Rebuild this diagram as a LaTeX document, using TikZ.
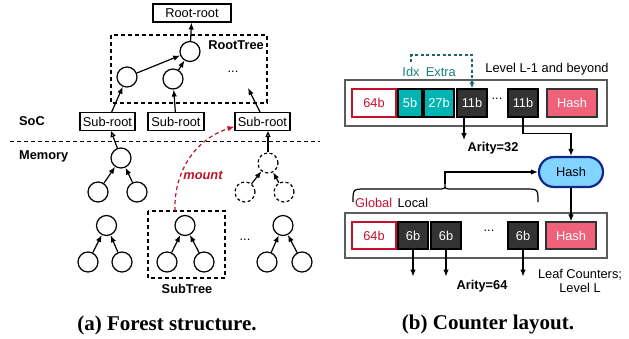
\documentclass[tikz,border=0pt]{standalone}
\usepackage{fontspec}
\setmainfont{Liberation Serif}
\setsansfont{Liberation Sans}
\usetikzlibrary{arrows.meta,positioning}
\definecolor{cntred}{RGB}{200,16,46}
\definecolor{mntred}{RGB}{190,20,40}
\definecolor{idxteal}{RGB}{0,180,180}
\definecolor{idxtext}{RGB}{30,125,125}
\definecolor{idxline}{RGB}{26,105,105}
\definecolor{ctrdark}{RGB}{51,51,51}
\definecolor{hashpink}{RGB}{240,98,122}
\definecolor{pillfill}{RGB}{128,212,255}
\definecolor{pillline}{RGB}{16,40,140}
\tikzset{
	txt/.style={font=\fontsize{12.8}{14}\selectfont\sffamily, inner sep=1pt},
	btxt/.style={font=\fontsize{12.8}{14}\selectfont\sffamily\bfseries, inner sep=1pt},
	captxt/.style={font=\fontsize{21}{23}\selectfont\bfseries},
	cir/.style={circle, draw, line width=1.2pt, minimum size=20pt, inner sep=0pt},
	dcir/.style={cir, dash pattern=on 3pt off 2.5pt},
	rbox/.style={txt, draw, line width=1.1pt, minimum height=18pt, inner sep=0pt},
	dbox/.style={line width=1.1pt, dash pattern=on 4pt off 3pt},
	arr/.style={line width=1.2pt, -{Latex[length=7pt,width=5.5pt]}},
	oarr/.style={line width=1.2pt, -{Triangle[open,length=6pt,width=5pt]}},
	cell/.style={txt, draw=black, line width=1.1pt, minimum height=28pt, inner sep=0pt, text=white},
	frame/.style={draw=ctrdark!80, line width=1.2pt}
}
\begin{document}
\begin{tikzpicture}[x=1pt,y=-1pt]
	\useasboundingbox (0,0) rectangle (629,338);
	%(a) forest
	\node (rr) at (192,13) [rbox, minimum width=78pt]{Root-root};
	\draw[dbox] (111,35) rectangle (267,103);
	\node (rtl) at (236,45) [btxt]{RootTree};
	\node (rt) at (190,51.5) [cir]{};
	\node (r1) at (127,77) [cir]{};
	\node (r2) at (173,79) [cir]{};
	\node (rdots) at (233,72) [txt]{...};
	\coordinate (rend) at (248,88);
	\draw[arr] (rt) -- (rr);
	\draw[arr] (r1) -- (rt);
	\draw[arr] (r2) -- (rt);
	
	\node (s1) at (107.5,121.5) [rbox, minimum width=55pt]{Sub-root};
	\node (s2) at (176,121.5) [rbox, minimum width=56pt]{Sub-root};
	\node (s3) at (262.5,121.5) [rbox, minimum width=55pt]{Sub-root};
	\draw[arr] (s1) -- (r1);
	\draw[arr] (s2) -- (r2);
	\draw[arr] (s3.north -| 260,0) -- (rend);
	
	\node (soc) at (18,121) [btxt, anchor=west]{SoC};
	\node (mem) at (18,156) [btxt, anchor=west]{Memory};
	\draw[dbox] (10,141.5) -- (320,141.5);
	
	%subtrees
	\foreach \n/\x/\y/\lx/\rx/\cy in {m1/121/158/98/137/192, ta/106.5/225.5/88/122/262, tb/185/225.5/167/204/262, tc/283/225.5/267/302/262}{
		\node (\n) at (\x,\y) [cir]{};
		\node (\n-l) at (\lx,\cy) [cir]{};
		\node (\n-r) at (\rx,\cy) [cir]{};
		\draw[arr] (\n-l) -- (\n);
		\draw[arr] (\n-r) -- (\n);
	}
	\node (d1) at (268,163) [dcir]{};
	\node (d1-l) at (245,192) [dcir]{};
	\node (d1-r) at (284,192) [dcir]{};
	\draw[arr] (d1-l) -- (d1);
	\draw[arr] (d1-r) -- (d1);
	\draw[oarr] (m1) -- (s1);
	\draw[oarr] (d1.north) -- (d1 |- s3.south);
	\node (bdots) at (245,240) [txt]{...};
	
	\draw[dbox] (148,211) rectangle (225,278);
	\node (stl) at (187,289) [btxt]{SubTree};
	\coordinate (mstart) at (175,211);
	\draw[mntred, line width=1.2pt, dash pattern=on 4pt off 3pt, -{Latex[length=7pt,width=5.5pt]}] (mstart) to[out=92,in=198] ([yshift=-5pt]s3.west);
	\node (mnt) at (203,175) [btxt, text=mntred, font=\fontsize{12.8}{14}\selectfont\sffamily\bfseries\itshape]{mount};
	
	\node (capa) at (167,325) [captxt]{(a) Forest structure.};
	
	%(b) counters, level L-1
	\draw[frame] (345,80) rectangle (607,126);
	\node (u64) at (374,103) [cell, minimum width=44pt, draw=cntred, fill=white, text=cntred]{64b};
	\node (u5) at (410,103) [cell, minimum width=24pt, fill=idxteal]{5b};
	\node (u27) at (439,103) [cell, minimum width=30pt, fill=idxteal]{27b};
	\node (u11a) at (472,103) [cell, minimum width=30pt, fill=ctrdark]{11b};
	\node (udots) at (497,99) [txt]{...};
	\node (u11b) at (523,103) [cell, minimum width=30pt, fill=ctrdark]{11b};
	\node (uh) at (572,103) [cell, minimum width=50pt, fill=hashpink, draw=ctrdark]{Hash};
	
	\node (idx) at (411,72) [txt, text=idxtext]{Idx};
	\node (ext) [txt, text=idxtext, right=4pt of idx]{Extra};
	\node (lvl) at (547,69) [txt]{Level L-1 and beyond};
	\coordinate (dstart) at (411,62);
	\draw[idxline, line width=1.1pt, dash pattern=on 3pt off 2.5pt, -{Latex[length=6pt,width=5pt]}] (dstart) -- (411,55) -| (u11a.north);
	
	\coordinate (a32) at (464,140);
	\draw[arr] (u11a.south -| a32) -- (a32);
	\node (ar32) at (493,148) [btxt]{Arity=32};
	
	\node (hp) at (571,172) [txt, draw=pillline, line width=2.2pt, fill=pillfill, rounded corners=15pt, minimum width=64pt, minimum height=30pt, text=black]{Hash};
	\draw[arr] (u11b.south) -- ++(0,16) -| (hp.north);
	
	%level L
	\draw[frame] (345,213) rectangle (607,258);
	\node (l64) at (374,235.5) [cell, minimum width=44pt, minimum height=27pt, draw=cntred, fill=white, text=cntred]{64b};
	\node (l6a) at (413,235.5) [cell, minimum width=30pt, minimum height=27pt, fill=ctrdark]{6b};
	\node (l6b) at (446,235.5) [cell, minimum width=30pt, minimum height=27pt, fill=ctrdark]{6b};
	\node (ldots) at (489,231) [txt]{...};
	\node (l6c) at (523,235.5) [cell, minimum width=30pt, minimum height=27pt, fill=ctrdark]{6b};
	\node (lh) at (571,235.5) [cell, minimum width=50pt, minimum height=27pt, fill=hashpink, draw=ctrdark]{Hash};
	\draw[arr] (hp.south) -- (lh.north);
	
	\foreach \c in {l6a, l6b, l6c}{
		\coordinate (\c-e) at ([yshift=-27pt]\c.south);
		\draw[arr] (\c.south) -- (\c-e);
	}
	\node (ar64) at (482,286) [btxt]{Arity=64};
	\node (leaf) at (580,281) [txt, align=center]{Leaf Counters;\\Level L};
	
	\node (glob) at (354,203) [txt, anchor=west, text=cntred]{Global};
	\node (loc) [txt, right=3pt of glob]{Local};
	%brace over the counters
	\draw[line width=1.2pt] (353,202) .. controls (353,189) .. (366,189) -- (438,189) .. controls (445,189) .. (445,184) .. controls (445,189) .. (452,189) -- (525,189) .. controls (538,189) .. (538,202);
	\coordinate (btip) at (445,184);
	\draw[arr] (btip) |- (hp.west);
	
	\node (capb) at (488,324) [captxt]{(b) Counter layout.};
\end{tikzpicture}
\end{document}
